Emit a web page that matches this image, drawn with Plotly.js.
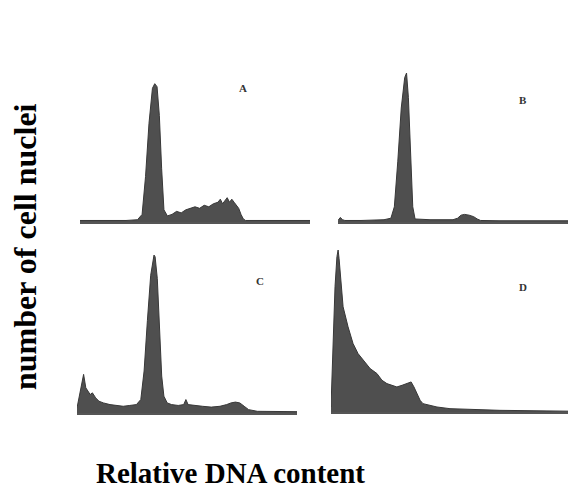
<!DOCTYPE html>
<html>
<head>
<meta charset="utf-8">
<script src="https://cdn.plot.ly/plotly-3.0.1.min.js"></script>
<style>html,body{margin:0;padding:0;background:#fff;}#chart{width:569px;height:491px;}</style>
</head>
<body>
<div id="chart"></div>
<script>
// Panel labels
const panelLabels = ["A", "B", "C", "D"];
const xTitle = "Relative DNA content";
const yTitle = "number of cell nuclei";

// Panel A: relative DNA content (channel %) vs number of nuclei (% of panel height)
const aX = [0, 20, 25, 27, 28.5, 30, 31.5, 32.5, 33.5, 34.5, 35.5, 36.5, 38, 40, 42, 44, 46, 48, 50, 52, 54, 56, 58, 60, 61, 62, 63, 64, 65, 66, 67, 68, 69, 70, 71, 72, 80, 90, 100];
const aY = [1, 1, 1.5, 5, 30, 65, 88, 91, 89, 70, 35, 8, 4, 5, 7, 6, 8, 9, 10, 9, 11, 10, 12, 13, 15, 12, 14, 16, 13, 15, 13, 11, 9, 5, 2, 1, 1, 1, 1];

// Panel B
const bX = [0, 0.5, 1, 2, 3, 10, 20, 23, 24.5, 26, 27.5, 29, 29.8, 30.6, 31.5, 32.5, 33.5, 40, 50, 52, 53.5, 55, 57, 59, 60.5, 62, 70, 85, 100];
const bY = [1, 2.5, 3, 1.5, 1, 1, 1.5, 2.5, 10, 40, 75, 95, 98, 82, 45, 10, 2, 1.5, 1.5, 2.5, 4.5, 5, 4.5, 3.5, 2, 1, 0.8, 0.8, 0.8];

// Panel C
const cX = [0, 1, 2, 3, 4, 5, 6, 7, 8.5, 10, 12, 15, 18, 21, 24, 27, 29, 30.5, 32, 33.5, 35, 35.5, 36.5, 37.5, 38.5, 39.5, 41, 43, 46, 48.5, 49.5, 50.5, 53, 57, 61, 65, 68, 70, 72, 74, 76, 78, 82, 90, 100];
const cY = [3, 10, 18, 23, 15, 13, 11, 12, 9, 7, 6, 5, 4.5, 4, 4.5, 5, 8, 25, 55, 82, 94, 93, 80, 50, 22, 10, 6, 5, 4.5, 5, 8, 5, 4.5, 4, 3.5, 4, 5, 6, 6.5, 6, 4, 2, 1, 0.8, 0.8];

// Panel D
const dX = [0, 0.8, 1.7, 2.5, 3, 3.4, 4.2, 5.1, 7.2, 9.3, 11.4, 13.5, 16.5, 19.4, 21.5, 23.6, 25.7, 27.8, 30, 32.1, 33.8, 35, 36.3, 37.6, 38.8, 41.8, 44.7, 50.2, 58.6, 71.3, 100];
const dY = [3, 40, 75, 93, 97, 92, 78, 63, 51, 41, 35, 31, 26, 23, 19, 17, 16, 15, 16, 17, 18, 15, 11, 7, 5, 4, 3, 2, 1.5, 1, 0.5];

const W = 569, H = 491;
const boxes = [
  {x0: 80, x1: 310, y0: 70, y1: 222, lx: 243, ly: 88},
  {x0: 338, x1: 568, y0: 70, y1: 222, lx: 523, ly: 100},
  {x0: 77, x1: 297, y0: 245, y1: 413, lx: 260, ly: 281},
  {x0: 331, x1: 568, y0: 245, y1: 412, lx: 523, ly: 287}
];
const series = [[aX, aY], [bX, bY], [cX, cY], [dX, dY]];

const traces = [];
const layout = {
  width: W, height: H,
  margin: {l: 0, r: 0, t: 0, b: 0},
  paper_bgcolor: "#ffffff",
  plot_bgcolor: "rgba(0,0,0,0)",
  showlegend: false,
  annotations: [],
  font: {family: "Liberation Serif, Times New Roman, serif", color: "#000"}
};

series.forEach((s, i) => {
  const n = i === 0 ? "" : String(i + 1);
  traces.push({
    type: "scatter", mode: "lines",
    x: s[0], y: s[1],
    xaxis: "x" + n, yaxis: "y" + n,
    fill: "tozeroy",
    fillcolor: "#4f4f4f",
    line: {color: "#383838", width: 1, shape: "linear"},
    hoverinfo: "skip"
  });
  const b = boxes[i];
  layout["xaxis" + n] = {
    domain: [b.x0 / W, b.x1 / W], range: [0, 100],
    anchor: "y" + n,
    showgrid: false, zeroline: false, showticklabels: false, ticks: "",
    showline: true, linecolor: "#555", linewidth: 2
  };
  layout["yaxis" + n] = {
    domain: [1 - b.y1 / H, 1 - b.y0 / H], range: [0, 100],
    anchor: "x" + n,
    showgrid: false, zeroline: false, showticklabels: false, ticks: "",
    showline: false
  };
  layout.annotations.push({
    text: "<b>" + panelLabels[i] + "</b>",
    xref: "paper", yref: "paper",
    x: b.lx / W, y: 1 - b.ly / H,
    showarrow: false, xanchor: "center", yanchor: "middle",
    font: {family: "Liberation Serif, serif", size: 11, color: "#333"}
  });
});

layout.annotations.push({
  text: "<b>" + xTitle + "</b>",
  xref: "paper", yref: "paper",
  x: 230 / W, y: 1 - 473 / H,
  showarrow: false, xanchor: "center", yanchor: "middle",
  font: {family: "Liberation Serif, serif", size: 29, color: "#000"}
});
layout.annotations.push({
  text: "<b>" + yTitle + "</b>",
  xref: "paper", yref: "paper",
  x: 25 / W, y: 1 - 247 / H,
  showarrow: false, xanchor: "center", yanchor: "middle",
  textangle: -90,
  font: {family: "Liberation Serif, serif", size: 32, color: "#000"}
});

Plotly.newPlot("chart", traces, layout, {staticPlot: true, displayModeBar: false});
</script>
</body>
</html>
